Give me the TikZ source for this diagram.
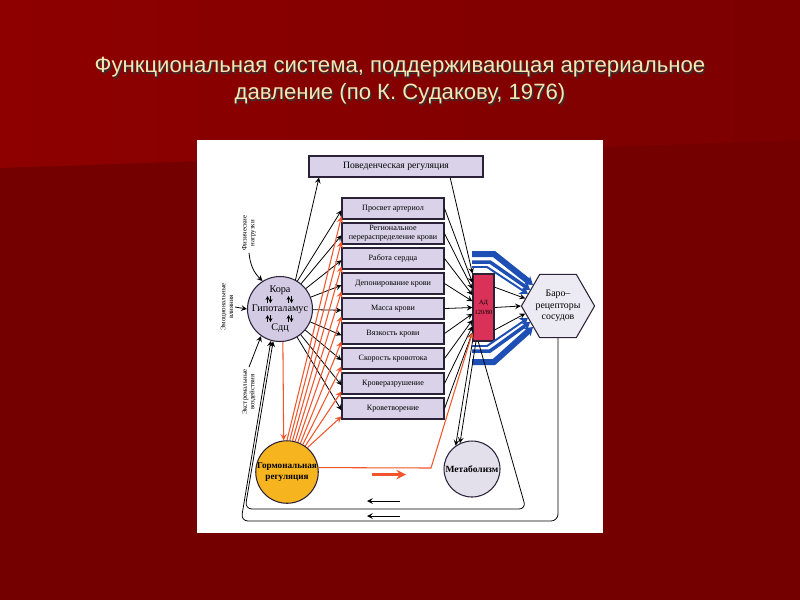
\documentclass[tikz,border=0pt]{standalone}
\usepackage{fontspec}
\setmainfont{Liberation Serif}
\newfontfamily\titlefont{Liberation Sans}
\usepackage{tikz}
\usetikzlibrary{shapes.geometric,calc,arrows.meta}

\definecolor{bgtop}{HTML}{8E0000}
\definecolor{bgtopr}{HTML}{7C0000}
\definecolor{bgbot}{HTML}{750000}
\definecolor{titlecol}{HTML}{F3E7B6}
\definecolor{boxfill}{HTML}{D9D2E9}
\definecolor{korafill}{HTML}{D3CBE4}
\definecolor{boxline}{HTML}{2B2238}
\definecolor{gormfill}{HTML}{F6B51E}
\definecolor{metfill}{HTML}{E3E0EC}
\definecolor{hexfill}{HTML}{ECEBF3}
\definecolor{adred}{HTML}{DA3158}
\definecolor{hormred}{HTML}{F2552C}
\definecolor{baroblue}{HTML}{1E4FB4}

\tikzset{
  blk/.style={draw=boxline, fill=boxfill, line width=0.6pt, minimum width=2.04cm,
    minimum height=0.42cm, inner sep=0pt, align=center,
    font=\fontsize{4.6}{5.2}\selectfont},
  circ/.style={circle, draw=boxline, line width=0.6pt, inner sep=0pt, align=center},
  side/.style={rotate=90, align=center, inner sep=1pt, font=\fontsize{3.9}{4.3}\selectfont},
  redarr/.style={->, draw=hormred, line width=0.6pt},
  band/.style={-{Stealth[length=4.5pt,width=6pt]}, draw=baroblue},
  updown/.style={-{Stealth[length=2.2pt,width=2.2pt]}, line width=0.65pt},
}

\begin{document}
\begin{tikzpicture}[x=0.02cm,y=-0.02cm,>=stealth,line width=0.45pt]
\useasboundingbox (0,0) rectangle (800,600);
% background of the slide
\fill[bgbot] (0,0) rectangle (800,600);
\shade[left color=bgtop, right color=bgtopr] (0,0) -- (800,0) -- (800,140) -- (0,168) -- cycle;
\fill[white] (197,140) rectangle (603,533);

% title with shadow
\node[align=center, text=black!80, font=\titlefont\fontsize{12.6}{15.3}\selectfont] at (401.3,82.3)
  {Функциональная система, поддерживающая артериальное\\давление (по К. Судакову, 1976)};
\node[align=center, text=titlecol, font=\titlefont\fontsize{12.6}{15.3}\selectfont] (title) at (400,81)
  {Функциональная система, поддерживающая артериальное\\давление (по К. Судакову, 1976)};

% nodes
\node[blk, minimum width=3.48cm, font=\fontsize{5.5}{6}\selectfont] (beh) at (396,166.5) {Поведенческая регуляция};
\foreach \t [count=\i] in {Просвет артериол, {Региональное\\перераспределение крови}, Работа сердца,
    Депонирование крови, Масса крови, Вязкость крови, Скорость кровотока, Кроверазрушение, Кроветворение}
  \node[blk] (b\i) at (393,{208.5+25*(\i-1)}) {\t};
\node[circ, fill=korafill, minimum size=1.3cm] (kora) at (280,309) {};
\node[align=center, inner sep=0pt, font=\fontsize{5.8}{10.8}\selectfont] (koratxt) at (kora) {Кора\\Гипоталамус\\Сдц};
\node[circ, fill=gormfill, minimum size=1.16cm, font=\bfseries\fontsize{5.2}{6}\selectfont] (gorm) at (287,472)
  {Гормональная\\регуляция};
\node[circ, fill=metfill, minimum size=1.12cm, font=\bfseries\fontsize{5.4}{6}\selectfont] (metab) at (472,469) {Метаболизм};
\node[draw=boxline, fill=adred, line width=0.6pt, minimum width=0.42cm, minimum height=1.34cm, inner sep=0pt,
  align=center, font=\fontsize{3.6}{6}\selectfont] (ad) at (483.5,307.5) {АД\\120/80};
\node[regular polygon, regular polygon sides=6, draw=boxline, fill=hexfill, line width=0.6pt, minimum size=1.38cm,
  inner sep=0pt, align=center, font=\fontsize{5.6}{6.4}\selectfont] (baro) at (558,306) {Баро–\\рецепторы\\сосудов};

% small up/down arrows inside the circle
\foreach \dx/\dy in {-11/-9.5, 10/-9.5, -11/9.5, 10/9.5} {
  \draw[updown] ($(kora)+(\dx-1.5,\dy+3.5)$) -- ++(0,-7);
  \draw[updown] ($(kora)+(\dx+1.5,\dy-3.5)$) -- ++(0,7);
}

% side influences
\node[side] (fiz) at (249,233) {Физические\\нагрузки};
\node[side] (emo) at (227,307) {Эмоциональные\\влияния};
\node[side] (ext) at (249,392) {Экстремальные\\воздействия};
\draw[->] (fiz.west) to[bend right=20] (kora.122);
\draw[->] (emo.south) -- (kora.west);
\draw[->] (ext.east) -- (kora.235);

% from the centre to the effectors
\draw[->] (kora.62) -- ([xshift=6pt]beh.south west);
\foreach \i in {1,...,9}
  \draw[->] (kora) -- ([yshift=-1pt]b\i.west);
\draw[redarr] (kora.275) -- (gorm.96);
\foreach \i in {1,...,9} {
  \pgfmathtruncatemacro\a{90-5*(\i-1)}
  \draw[redarr] (gorm.\a) -- ([yshift=-4.5pt]b\i.west);
}

% effectors to blood pressure
\foreach \i in {1,...,9}
  \draw[->] (b\i.east) -- ($(ad.west)+(0,{(\i-5)*6.2})$);
\draw[->] ([xshift=-19pt]beh.south east) -- (ad.north west);
\coordinate (rk) at (431,468);
\draw[redarr] (gorm.8) -- (rk) -- ($(ad.west)+(0,25)$);
\coordinate (r1) at (372,474.5); \coordinate (r2) at (406,474.5);
\draw[redarr, line width=1.4pt] (r1) -- (r2);

% blue bands to the baroreceptors
\coordinate (u1) at (472,254); \coordinate (u1k) at (494,254);
\coordinate (u2) at (472,262); \coordinate (u2k) at (490,262);
\coordinate (u3) at (472,267); \coordinate (u3k) at (487,267);
\coordinate (d3) at (472,346); \coordinate (d3k) at (487,346);
\coordinate (d2) at (472,351); \coordinate (d2k) at (490,351);
\coordinate (d1) at (472,362); \coordinate (d1k) at (494,362);
\draw[band, line width=3.4pt] (u1) -- (u1k) -- (baro.140);
\draw[band, line width=2pt] (u2) -- (u2k) -- (baro.150);
\draw[band, line width=1.1pt] (u3) -- (u3k) -- (baro.158);
\draw[band, line width=1.1pt] (d3) -- (d3k) -- (baro.202);
\draw[band, line width=2pt] (d2) -- (d2k) -- (baro.210);
\draw[band, line width=3.4pt] (d1) -- (d1k) -- (baro.220);
\draw[->] ([yshift=11.6pt]ad.east) -- (baro.167);
\draw[->] (ad.east) -- (baro.west);
\draw[->] ([yshift=-12.8pt]ad.east) -- (baro.193);

% metabolism and feedback loops
\draw[->] (ad.south west) -- (metab.125);
\draw[->] ([xshift=2pt]ad.south west) -- (metab.115);
\coordinate (lb1) at (526,509); \coordinate (lb0) at (245,509);
\coordinate (lc1) at (558,521); \coordinate (lc0) at (241,521);
\draw[->, rounded corners=4pt] ([xshift=-3pt]ad.south) -- (lb1) -- (lb0) -- (kora.258);
\draw[->, rounded corners=4pt] (baro.south) -- (lc1) -- (lc0) -- (kora.254);
\coordinate (s1a) at (400,501); \coordinate (s1b) at (367,501);
\coordinate (s2a) at (400,516); \coordinate (s2b) at (367,516);
\draw[->] (s1a) -- (s1b);
\draw[->] (s2a) -- (s2b);
\end{tikzpicture}
\end{document}
